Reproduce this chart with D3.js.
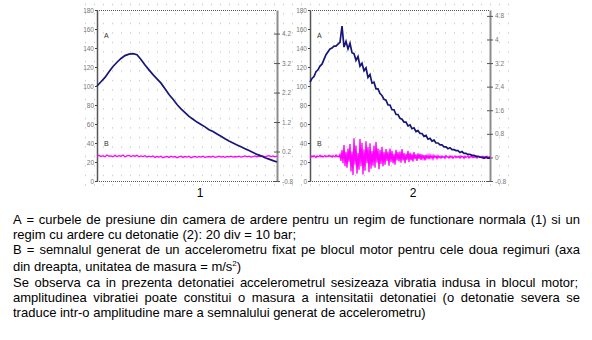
<!DOCTYPE html>
<html><head><meta charset="utf-8">
<script src="https://cdn.jsdelivr.net/npm/d3@7"></script>
<style>body{margin:0;background:#fff;} svg{display:block;}</style>
</head><body><svg id="c" width="592" height="340"></svg>
<script>
// ---------- data ----------
const pressureTicks = [0, 20, 40, 60, 80, 100, 120, 140, 160, 180];
const accelTicks1 = [-0.8, 0.2, 1.2, 2.2, 3.2, 4.2];
const accelTicks2 = [-0.8, 0, 0.8, 1.6, 2.4, 3.2, 4, 4.8];
const panelLabels = ["1", "2"];
const curveLabels = ["A", "B"];

// Curve A, regime 1 (pressure, left axis), one sample every 4 time units
const a1Step = 4;
const a1 = [100,104.5,109,115,120.5,125,129,132,133.5,134,
            133,128,122,117,112,107.5,103,97,91,86,
            80.5,76,72,68,65,62,59.5,57,54,52,
            49.5,47,44.5,42,40,38,36,34,32,30,
            28,26.5,24.5,23,21.5,20];
// Curve B, regime 1 (acceleration, right axis), one sample every 2 units
const b1Step = 2;
const b1 = [0.04,0.07,0.03,0.06,0.02,0.08,0.04,0.05,0.02,0.07,
            0.03,0.06,0.04,0.08,0.02,0.05,0.07,0.03,0.06,0.04,
            0.07,0.02,0.05,0.03,0.06,0.01,0.04,0.02,0.05,0.00,
            0.03,0.01,0.04,-0.01,0.02,0.03,0.00,0.04,0.01,0.03,
            -0.01,0.02,0.04,0.00,0.03,0.01,0.04,-0.01,0.02,0.03,
            0.00,0.03,0.01,0.04,0.00,0.02,0.03,0.01,0.04,0.00,
            0.02,0.04,0.01,0.03,0.00,0.03,0.02,0.04,0.01,0.03,
            0.02,0.04,0.01,0.03,0.05,0.02,0.04,0.01,0.03,0.05,
            0.02,0.04,0.03,0.05,0.02,0.04,0.06,0.03,0.05,0.02,
            0.04];
// Curve A, regime 2 (knock), one sample every 2 units
const a2Step = 2;
const a2 = [104,108,110,115,117,121,123,128,133,136,
            139,140,142,142,144,146,163,141,147,139,
            145,135,134,127,131,121,124,116,119,109,
            112,103,104,97,97,92,90,86,85,80,
            80,75,75,70,70,66,65,62,62,58,
            59,55,56,52,53,50,50,47,48,44,
            45,42,43,40,40,38,38,36,36,34,
            35,33,33,32,32,30,31,29,29,28,
            28,27,27,26,26,25,25,24,25,24,
            24];
// Curve B, regime 2, one sample every unit
const b2Step = 1;
const b2 = [0.04,0.01,0.05,0.02,0.06,0.03,0.00,0.05,0.02,0.04,
            0.07,0.02,0.05,0.01,0.04,0.06,0.02,0.05,0.03,0.07,
            0.03,0.05,0.01,0.06,0.04,0.02,0.08,0.03,0.05,0.02,
            0.10,-0.12,0.25,-0.20,0.42,-0.30,0.18,-0.35,0.30,-0.15,
            0.45,-0.48,0.20,-0.60,0.65,-0.25,0.40,-0.55,0.15,-0.42,
            0.62,-0.30,0.50,-0.58,0.28,-0.45,0.55,-0.20,0.35,-0.50,
            0.48,-0.38,0.22,-0.28,0.40,-0.35,0.52,-0.18,0.30,-0.40,
            0.25,-0.22,0.35,-0.30,0.18,-0.25,0.28,-0.12,0.20,-0.28,
            0.30,-0.15,0.22,-0.20,0.12,-0.25,0.26,-0.10,0.18,-0.14,
            0.20,-0.18,0.28,-0.10,0.15,-0.20,0.12,-0.08,0.22,-0.15,
            0.16,-0.10,0.12,-0.14,0.18,-0.06,0.10,-0.12,0.14,-0.05,
            0.12,-0.08,0.10,-0.04,0.08,-0.10,0.09,-0.03,0.07,-0.06,
            0.08,-0.02,0.06,-0.05,0.07,0.00,0.05,-0.04,0.06,-0.01,
            0.04,-0.02,0.05,0.00,0.03,-0.03,0.06,0.01,0.03,-0.02,
            0.05,0.00,0.04,-0.03,0.02,0.05,-0.01,0.03,0.00,0.04,
            -0.02,0.05,0.01,0.03,-0.03,0.04,0.00,0.02,0.05,-0.02,
            0.03,0.01,0.04,-0.01,0.03,0.00,0.05,-0.02,0.02,0.04,
            0.00,0.03,-0.02,0.04,0.01,0.03,-0.01,0.04,0.00,0.02,
            0.03];

const textLines = [
  "A = curbele de presiune din camera de ardere pentru un regim de functionare normala (1) si un",
  "regim cu ardere cu detonatie (2): 20 div = 10 bar;",
  "B = semnalul generat de un accelerometru fixat pe blocul motor pentru cele doua regimuri (axa",
  "din dreapta, unitatea de masura = m/s",
  "Se observa ca in prezenta detonatiei accelerometrul sesizeaza vibratia indusa in blocul motor;",
  "amplitudinea vibratiei poate constitui o masura a intensitatii detonatiei (o detonatie severa se",
  "traduce intr-o amplitudine mare a semnalului generat de accelerometru)"
];
// right edge each line is spread to (null = left aligned)
const textRightEdge = [580, 296, 580, null, 578, 580, null];
const textBaselines = [224, 239, 254, 271, 287, 302, 317];

// ---------- drawing ----------
const svg = d3.select("#c");
const FONT = "'Liberation Sans', Arial, sans-serif";
const defs = svg.append("defs");
const pat = defs.append("pattern").attr("id", "dots")
  .attr("patternUnits", "userSpaceOnUse").attr("width", 9).attr("height", 9.5);
pat.append("rect").attr("x", 4).attr("y", 4).attr("width", 1).attr("height", 1).attr("fill", "#b4b4b4");
svg.append("rect").attr("x", 80).attr("y", 0).attr("width", 430).attr("height", 190).attr("fill", "url(#dots)");

const TOP = 10, BOT = 181;
const panels = [
  {x0: 97, x1: 277, a: a1, aStep: a1Step, b: b1, bStep: b1Step, rt: accelTicks1, label: panelLabels[0]},
  {x0: 310, x1: 490, a: a2, aStep: a2Step, b: b2, bStep: b2Step, rt: accelTicks2, label: panelLabels[1]}
];
const fmtR = d => (Math.round(d * 10) / 10).toString();

panels.forEach(p => {
  const x = d3.scaleLinear().domain([0, 180]).range([p.x0, p.x1]);
  const yL = d3.scaleLinear().domain([0, 180]).range([BOT, TOP]);
  const yR = d3.scaleLinear().domain([-0.8, 5.0]).range([BOT, TOP]);

  [TOP, BOT].forEach(yy => svg.append("line")
    .attr("x1", p.x0).attr("x2", p.x1).attr("y1", yy + 0.5).attr("y2", yy + 0.5)
    .attr("stroke", "#555").attr("stroke-width", 1).attr("stroke-dasharray", "1,1"));

  const gl = svg.append("g").attr("transform", `translate(${p.x0},0)`)
    .call(d3.axisLeft(yL).tickValues(pressureTicks).tickSize(2).tickSizeOuter(0).tickPadding(1).tickFormat(d3.format("d")));
  gl.attr("font-family", FONT).attr("font-size", 6.5);
  gl.select(".domain").attr("stroke", "#555").attr("stroke-width", 1.5);
  gl.selectAll(".tick line").attr("stroke", "#444");
  gl.selectAll(".tick text").attr("fill", "#777");

  const gr = svg.append("g").attr("transform", `translate(${p.x1},0)`)
    .call(d3.axisRight(yR).tickValues(p.rt).tickSize(3).tickSizeOuter(0).tickPadding(2).tickFormat(fmtR));
  gr.attr("font-family", FONT).attr("font-size", 6.5);
  gr.select(".domain").attr("stroke", "#8c8c8c").attr("stroke-width", 2);
  gr.selectAll(".tick line").attr("stroke", "#555").attr("x1", -3);
  gr.selectAll(".tick text").attr("fill", "#777");

  svg.append("path").datum(p.b)
    .attr("d", d3.line().x((d, i) => x(i * p.bStep)).y(d => yR(d)))
    .attr("fill", "none").attr("stroke", "#ff00ff").attr("stroke-width", 1.3);
  svg.append("path").datum(p.a)
    .attr("d", d3.line().x((d, i) => x(i * p.aStep)).y(d => yL(d)))
    .attr("fill", "none").attr("stroke", "#16167a").attr("stroke-width", 1.7);

  svg.append("text").attr("x", p.x0 + 7).attr("y", 38).text(curveLabels[0])
    .attr("font-family", FONT).attr("font-size", 7).attr("fill", "#333");
  svg.append("text").attr("x", p.x0 + 7).attr("y", 146).text(curveLabels[1])
    .attr("font-family", FONT).attr("font-size", 7).attr("fill", "#333");

  svg.append("text").attr("x", (p.x0 + p.x1) / 2 + 13).attr("y", 197).attr("text-anchor", "middle")
    .text(p.label).attr("font-family", FONT).attr("font-size", 12).attr("fill", "#000");
});

// ---------- caption text ----------
const LEFT = 13, FS = 13;
const meas = svg.append("text").attr("font-family", FONT).attr("font-size", FS);
textLines.forEach((line, i) => {
  const t = svg.append("text").attr("y", textBaselines[i])
    .attr("font-family", FONT).attr("font-size", FS).attr("fill", "#000");
  const right = textRightEdge[i];
  if (right !== null) {
    const words = line.split(" ");
    const widths = words.map(w => { meas.text(w); return meas.node().getComputedTextLength(); });
    const gap = (right - LEFT - d3.sum(widths)) / (words.length - 1);
    let xx = LEFT;
    words.forEach((w, k) => { t.append("tspan").attr("x", xx).text(w); xx += widths[k] + gap; });
  } else if (i === 3) {
    t.attr("x", LEFT);
    t.append("tspan").text(line);
    t.append("tspan").attr("dy", -5).attr("font-size", 8).text("2");
    t.append("tspan").attr("dy", 5).text(")");
  } else {
    t.attr("x", LEFT).text(line);
  }
});
meas.remove();
</script>
</body></html>
